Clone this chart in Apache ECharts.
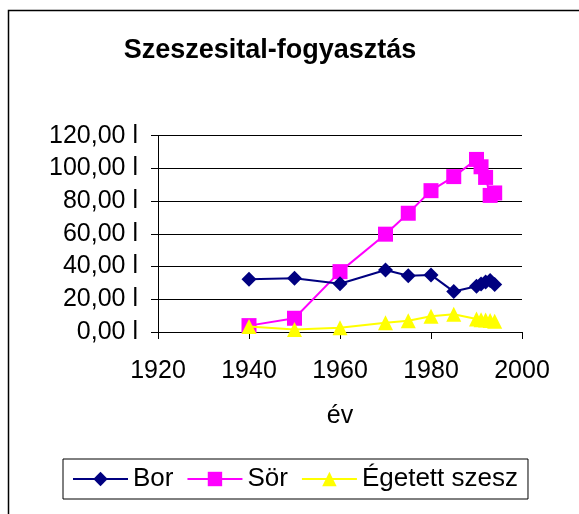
<!DOCTYPE html>
<html><head><meta charset="utf-8">
<script src="https://cdn.jsdelivr.net/npm/echarts@6/dist/echarts.min.js"></script>
<style>html,body{margin:0;padding:0;background:#fff}#c{width:579px;height:514px}</style>
</head><body><div id="c"></div>
<script>
const years = [1940, 1950, 1960, 1970, 1975, 1980, 1985, 1990, 1991, 1992, 1993, 1994];
const bor = [32.2, 32.8, 29.5, 37.9, 34.4, 34.9, 24.7, 28.0, 29.4, 30.6, 31.5, 29.0];
const sor = [3.9, 8.4, 36.9, 59.8, 72.6, 86.4, 95.0, 105.5, 101.0, 94.5, 83.5, 85.0];
const egetett = [3.3, 1.5, 2.6, 5.7, 6.9, 9.6, 10.8, 8.0, 7.5, 7.3, 7.1, 6.6];
const seriesNames = ['Bor', 'Sör', 'Égetett szesz'];
const FONT = 'Liberation Sans, Arial, sans-serif';

function pairs(v){ return years.map((y,i)=>[y, v[i]]); }

const chart = echarts.init(document.getElementById('c'), null, {renderer:'canvas'});
chart.setOption({
  animation:false,
  backgroundColor:'#fff',
  textStyle:{fontFamily:FONT},
  graphic:[{type:'rect', shape:{x:8.5,y:10.5,width:700,height:700}, style:{fill:'none', stroke:'#000', lineWidth:1.5}, z:-1}],
  title:{text:'Szeszesital-fogyasztás', left:265, top:32, textAlign:'center',
    textStyle:{fontFamily:FONT, fontSize:27, fontWeight:'bold', color:'#000'}},
  grid:{left:158, right:57, top:135.7, bottom:182, containLabel:false},
  xAxis:{type:'value', min:1920, max:2000, interval:20,
    name:'év', nameLocation:'middle', nameGap:72,
    nameTextStyle:{fontFamily:FONT, fontSize:25, color:'#000'},
    axisLine:{show:true, onZero:false, lineStyle:{color:'#000', width:1}},
    axisTick:{show:true, inside:false, length:7, lineStyle:{color:'#000'}},
    axisLabel:{fontFamily:FONT, fontSize:25, color:'#000', margin:27, formatter:v=>String(v)},
    splitLine:{show:false}},
  yAxis:{type:'value', min:0, max:120, interval:20,
    axisLine:{show:true, lineStyle:{color:'#000', width:1}},
    axisTick:{show:true, inside:false, length:7, lineStyle:{color:'#000'}},
    axisLabel:{fontFamily:FONT, fontSize:25, color:'#000', margin:20,
      formatter:v=>v.toFixed(2).replace('.',',')+' l'},
    splitLine:{show:true, lineStyle:{color:'#000', width:1}}},
  legend:{left:63, top:459, orient:'horizontal', itemWidth:55, itemHeight:18, itemGap:13,
    padding:[7,10,7,9], borderColor:'#000', borderWidth:1,
    textStyle:{fontFamily:FONT, fontSize:26, color:'#000'},
    data:seriesNames},
  series:[
    {name:seriesNames[0], type:'line', data:pairs(bor), symbol:'diamond', symbolSize:15,
      lineStyle:{color:'#000080', width:2}, itemStyle:{color:'#000080'}, z:3},
    {name:seriesNames[1], type:'line', data:pairs(sor), symbol:'rect', symbolSize:15,
      lineStyle:{color:'#FF00FF', width:2}, itemStyle:{color:'#FF00FF'}, z:2},
    {name:seriesNames[2], type:'line', data:pairs(egetett), symbol:'triangle', symbolSize:15,
      lineStyle:{color:'#FFFF00', width:2}, itemStyle:{color:'#FFFF00'}, z:4}
  ]
});
</script></body></html>
